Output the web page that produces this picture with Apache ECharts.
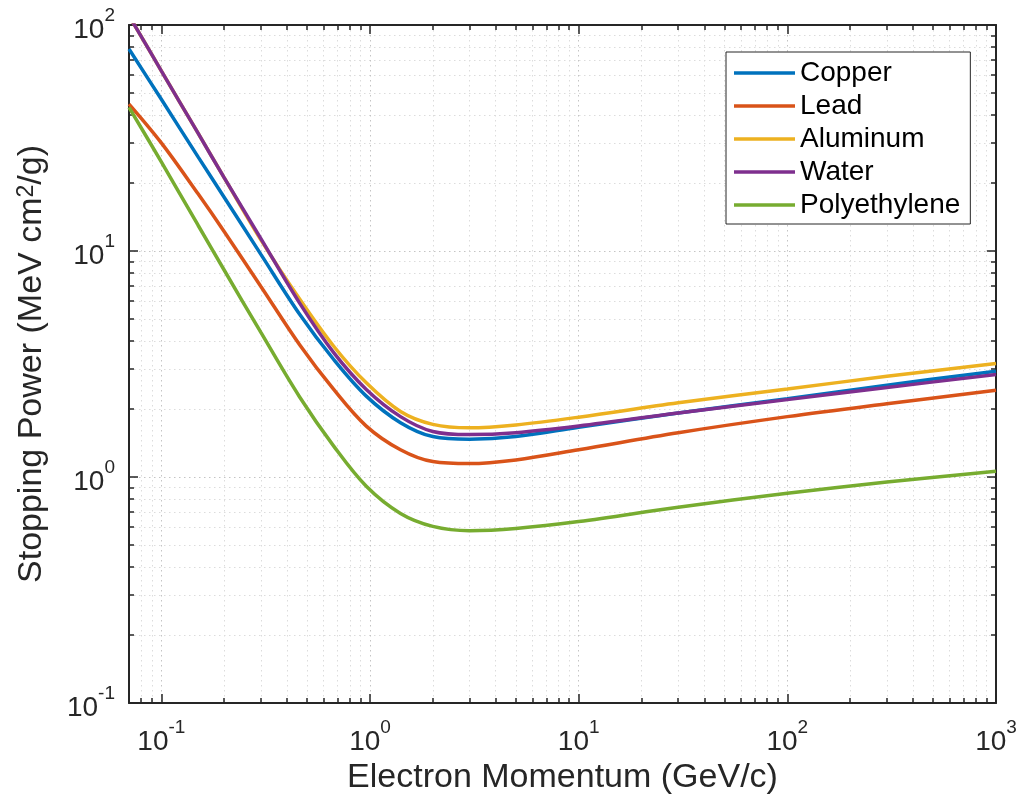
<!DOCTYPE html>
<html>
<head>
<meta charset="utf-8">
<title>Stopping Power</title>
<script src="https://cdn.jsdelivr.net/npm/echarts@6/dist/echarts.min.js"></script>
<style>
html, body { margin: 0; padding: 0; background: #fff; }
#chart { width: 1021px; height: 799px; }
</style>
</head>
<body>
<div id="chart"></div>
<script>
// electron momentum (GeV/c)
var momentum = [0.07, 0.1, 0.15, 0.2, 0.3, 0.46, 0.67, 0.96, 1.4, 2, 3, 5, 10, 30, 100, 300, 1000];

// stopping power (MeV cm2/g)
var copper       = [78.3, 46.9, 26.1, 17.3, 9.66, 5.25, 3.31, 2.28, 1.74, 1.51, 1.47, 1.51, 1.66, 1.92, 2.22, 2.55, 2.94];
var lead         = [44.7, 30.1, 17.9, 12.2, 6.97, 3.85, 2.44, 1.68, 1.32, 1.17, 1.146, 1.19, 1.32, 1.57, 1.85, 2.11, 2.42];
var aluminum     = [110, 62.7, 33.2, 21.1, 11.2, 6.13, 3.79, 2.61, 1.95, 1.71, 1.65, 1.70, 1.84, 2.13, 2.45, 2.79, 3.18];
var water        = [110, 62.7, 33.2, 21.1, 11.35, 5.88, 3.55, 2.44, 1.85, 1.59, 1.54, 1.57, 1.68, 1.92, 2.20, 2.49, 2.84];
var polyethylene = [43.2, 24.8, 13.0, 8.24, 4.36, 2.26, 1.37, 0.91, 0.69, 0.605, 0.579, 0.592, 0.635, 0.735, 0.847, 0.95, 1.06];

var names  = ['Copper', 'Lead', 'Aluminum', 'Water', 'Polyethylene'];
var colors = ['#0072BD', '#D95319', '#EDB120', '#7E2F8E', '#77AC30'];

// ticks
var xMajor = [0.1, 1, 10, 100, 1000];
var yMajor = [0.1, 1, 10, 100];
function minorTicks(decades, lo, hi) {
  var out = [];
  decades.forEach(function (d) {
    for (var k = 2; k <= 9; k++) {
      var v = +(k * d).toPrecision(3);
      if (v > lo && v < hi) out.push(v);
    }
  });
  return out;
}
var xMinor = minorTicks([0.01, 0.1, 1, 10, 100], 0.07, 1000);
var yMinor = minorTicks([0.1, 1, 10], 0.1, 100);

var axisColor = '#262626';
var font = '"Liberation Sans", Arial, Helvetica, sans-serif';

// "10" with a raised exponent; the p token only sets the line height
function powLabel(v) {
  var e = Math.round(Math.log10(v));
  return '{b|10}{s|' + e + '}{p|\u200b}';
}
var tickRich = {
  b: { fontSize: 28, lineHeight: 28, verticalAlign: 'bottom', color: axisColor, fontFamily: font },
  s: { fontSize: 19, lineHeight: 26, verticalAlign: 'top', color: axisColor, fontFamily: font },
  p: { fontSize: 1, lineHeight: 38, verticalAlign: 'middle' }
};
var gridDot = [1.5, 3.5];

function logAxis(dim, pos, ticks, major) {
  var isX = dim === 'x';
  return {
    type: 'log',
    logBase: 10,
    min: isX ? 0.07 : 0.1,
    max: isX ? 1000 : 100,
    position: pos,
    axisLine: { show: major, onZero: false, lineStyle: { color: axisColor, width: 2 } },
    axisTick: {
      show: true, inside: true, length: major ? 9 : 5,
      customValues: ticks,
      lineStyle: { color: axisColor, width: 1.5 }
    },
    axisLabel: { show: false },
    splitLine: { show: false }
  };
}

var xBottom = logAxis('x', 'bottom', xMajor, true);
xBottom.axisLabel = { show: true, customValues: xMajor, formatter: powLabel, margin: 15, rich: tickRich };
xBottom.splitLine = { show: true, lineStyle: { color: '#c4c4c4', width: 1, type: gridDot } };
xBottom.name = 'Electron Momentum (GeV/c)';
xBottom.nameLocation = 'middle';
xBottom.nameGap = 54;
xBottom.nameTextStyle = { fontSize: 34, color: axisColor, fontFamily: font };

var xBottomMinor = logAxis('x', 'bottom', xMinor, false);
xBottomMinor.splitLine = { show: true, lineStyle: { color: '#dcdcdc', width: 1, type: gridDot } };

var yLeft = logAxis('y', 'left', yMajor, true);
yLeft.axisLabel = { show: true, customValues: yMajor, formatter: powLabel, margin: 14, rich: tickRich };
yLeft.splitLine = { show: true, lineStyle: { color: '#c4c4c4', width: 1, type: gridDot } };
yLeft.name = 'Stopping Power (MeV cm{sup|2}/g)';
yLeft.nameLocation = 'middle';
yLeft.nameGap = 80;
yLeft.nameTextStyle = {
  fontSize: 34, color: axisColor, fontFamily: font,
  rich: { sup: { fontSize: 23, lineHeight: 23, verticalAlign: 'top', color: axisColor, fontFamily: font } }
};

var yLeftMinor = logAxis('y', 'left', yMinor, false);
yLeftMinor.splitLine = { show: true, lineStyle: { color: '#dcdcdc', width: 1, type: gridDot } };

var series = [copper, lead, aluminum, water, polyethylene].map(function (vals, i) {
  return {
    name: names[i],
    type: 'line',
    xAxisIndex: 0,
    yAxisIndex: 0,
    smooth: 0.35,
    showSymbol: false,
    symbol: 'none',
    clip: true,
    color: colors[i],
    lineStyle: { width: 3.5, color: colors[i] },
    data: momentum.map(function (x, j) { return [x, vals[j]]; })
  };
});

var chart = echarts.init(document.getElementById('chart'));
chart.setOption({
  animation: false,
  backgroundColor: '#fff',
  grid: { left: 129, right: 25, top: 25, bottom: 96, containLabel: false, outerBoundsMode: 'none' },
  legend: {
    orient: 'vertical',
    left: 726,
    top: 52,
    icon: 'rect',
    itemWidth: 61,
    itemHeight: 3.5,
    itemGap: 5,
    padding: [7, 10, 5, 8],
    borderColor: axisColor,
    borderWidth: 1,
    backgroundColor: '#fff',
    textStyle: { fontSize: 28, lineHeight: 27, color: '#000', fontFamily: font },
    data: names
  },
  xAxis: [
    xBottom,
    xBottomMinor,
    logAxis('x', 'top', xMajor, true),
    logAxis('x', 'top', xMinor, false)
  ],
  yAxis: [
    yLeft,
    yLeftMinor,
    logAxis('y', 'right', yMajor, true),
    logAxis('y', 'right', yMinor, false)
  ],
  series: series
});
</script>
</body>
</html>
